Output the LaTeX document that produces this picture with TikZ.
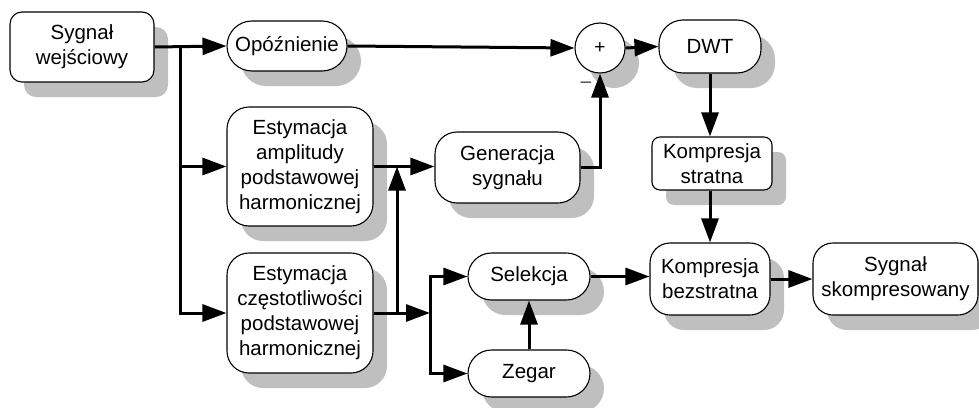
\documentclass[tikz,border=0pt]{standalone}
\usepackage{fontspec}
\setmainfont{Liberation Sans}
\usetikzlibrary{arrows.meta,shadows}
\begin{document}
\begin{tikzpicture}[x=1pt,y=-1pt,
  shade box/.style={draw=black, line width=1.1pt, fill=white, align=center,
    inner sep=0pt, font=\fontsize{20.5}{25}\selectfont,
    drop shadow={shadow xshift=14pt, shadow yshift=-15pt, fill=black!25, opacity=1, draw=none}},
  blk/.style 2 args={shade box, minimum width=#1, minimum height=#2},
  flow/.style={line width=3pt, -{Triangle[length=24pt,width=17pt]}},
]
\useasboundingbox (0,0) rectangle (979,407);

% blocks
\node[blk={144pt}{70pt}, rounded corners=12pt] (in) at (82,47) {Sygnał\\wejściowy};
\node[blk={120pt}{50pt}, rounded corners=25pt] (delay) at (287,46) {Opóźnienie};
\node[shade box, circle, minimum size=50pt, font=\fontsize{19}{20}\selectfont] (sum) at (600,48) {+};
\node[blk={102pt}{53pt}, rounded corners=24pt] (dwt) at (710,46.5) {DWT};
\node[blk={146pt}{119pt}, rounded corners=22pt] (amp) at (300,166.5) {Estymacja\\amplitudy\\podstawowej\\harmonicznej};
\node[blk={145pt}{71pt}, rounded corners=22pt] (gen) at (507.5,167.5) {Generacja\\sygnału};
\node[blk={146pt}{120pt}, rounded corners=22pt] (freq) at (300,313) {Estymacja\\częstotliwości\\podstawowej\\harmonicznej};
\node[blk={122pt}{47pt}, rounded corners=23.5pt] (sel) at (529,276.5) {Selekcja};
\node[blk={122pt}{47pt}, rounded corners=23.5pt] (zeg) at (529,373.5) {Zegar};
\node[blk={120pt}{53pt}, rounded corners=8pt] (ks) at (712,163.5) {Kompresja\\stratna};
\node[blk={120pt}{72pt}, rounded corners=20pt] (kb) at (710,279) {Kompresja\\bezstratna};
\node[blk={165pt}{72pt}, rounded corners=20pt] (out) at (895.5,279) {Sygnał\\skompresowany};

\node[font=\fontsize{19}{20}\selectfont, text=black!80] (minus) at (586,85) {–};

% branch points
\coordinate (jin) at (180,47);
\coordinate (jfa) at (397,313);
\coordinate (jfs) at (430,313);

% connectors
\draw[flow] (in.east) -- (delay.west);
\draw[flow] (jin) |- (amp.west);
\draw[flow] (jin) |- (freq.west);
\draw[flow] (delay.east) -- (sum.west);
\draw[flow] (sum.east) -- (dwt.west);
\draw[flow] (gen.east) -| (sum.south);
\draw[flow] (amp.east) -- (amp.east -| gen.west);
\draw[flow] (freq.east) -- (jfs);
\draw[flow] (jfa) -- (jfa |- amp.east);
\draw[flow] (jfs) |- (sel.west);
\draw[flow] (jfs) |- (zeg.west);
\draw[flow] (zeg.north) -- (sel.south);
\draw[flow] (sel.east) -- (sel.east -| kb.west);
\draw[flow] (dwt.south) -- (dwt.south |- ks.north);
\draw[flow] (ks.south -| kb.north) -- (kb.north);
\draw[flow] (kb.east) -- (kb.east -| out.west);
\end{tikzpicture}
\end{document}
